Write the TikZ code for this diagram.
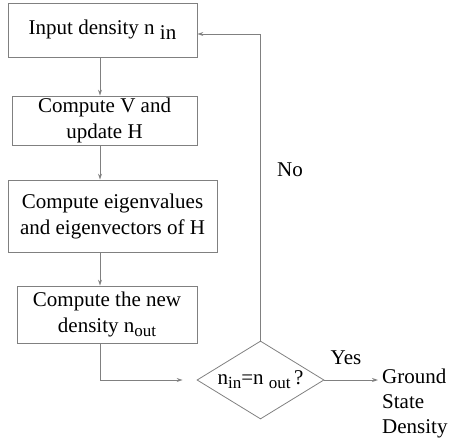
\documentclass[tikz,border=0pt]{standalone}
\usepackage{fontspec}
\setmainfont{Liberation Serif}
\usetikzlibrary{shapes.geometric,arrows.meta}
\newcommand{\mysub}[1]{\raisebox{-4pt}{\fontsize{17}{17}\selectfont #1}}
\begin{document}
\begin{tikzpicture}[x=1pt,y=-1pt,
  line/.style={draw=black!50,line width=0.8pt},
  arr/.style={line,-{Stealth[length=6pt,width=4pt,open]}},
  stepbox/.style={line,rectangle,align=center,inner sep=0pt,font=\fontsize{21}{26}\selectfont},
  txt/.style={font=\fontsize{21}{25}\selectfont,inner sep=0pt}]
\useasboundingbox (0,0) rectangle (458,441);
\node[stepbox,minimum width=189pt,minimum height=54pt] (b1) at (102.5,30) {\raisebox{-4pt}{Input density n \raisebox{-5pt}{in}}};
\node[stepbox,minimum width=185pt,minimum height=49pt] (b2) at (104.5,120.5) {Compute V and\\update H};
\node[stepbox,minimum width=209pt,minimum height=72pt] (b3) at (112.5,216) {Compute eigenvalues\\and eigenvectors of H};
\node[stepbox,minimum width=180pt,minimum height=57pt] (b4) at (107,314.5) {Compute the new\\density n\mysub{out}};
\node[line,diamond,aspect=1.63,minimum width=127pt,minimum height=78pt,inner sep=0pt,font=\fontsize{21}{26}\selectfont] (d) at (260.5,380) {n\mysub{in}=n \mysub{out}\,?};
\node[txt,anchor=west,align=left] (gs) at (382,403) {Ground\\State\\Density};
\node[txt] (no) at (290,170) {No};
\node[txt] (yes) at (346,358) {Yes};
\coordinate (col) at (100,0);
\coordinate (ret) at (0,34);
\draw[arr] (b1.south -| col) -- (b2.north -| col);
\draw[arr] (b2.south -| col) -- (b3.north -| col);
\draw[arr] (b3.south -| col) -- (b4.north -| col);
\draw[arr,shorten >=14pt] (b4.south -| col) |- (d.west);
\draw[arr] (d.north) |- (ret -| d.north) -- (b1.east |- ret);
\draw[arr,shorten >=4pt] (d.east) -- (gs.west |- d.east);
\end{tikzpicture}
\end{document}
